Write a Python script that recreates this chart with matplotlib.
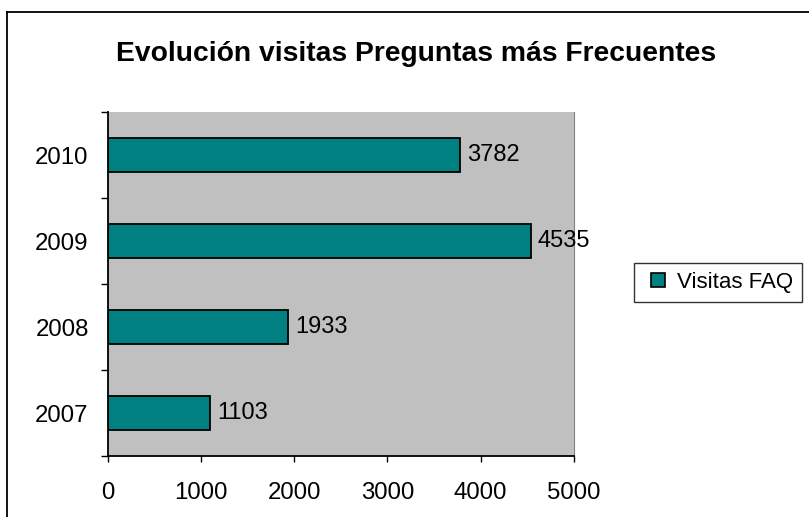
import matplotlib.pyplot as plt
from matplotlib.lines import Line2D
import numpy as np

years = ["2007", "2008", "2009", "2010"]
visits = [1103, 1933, 4535, 3782]
series_name = "Visitas FAQ"
title = "Evolución visitas Preguntas más Frecuentes"
x_ticks = [0, 1000, 2000, 3000, 4000, 5000]

plt.rcParams['font.family'] = ['Liberation Sans', 'DejaVu Sans']

teal = "#008080"
fig = plt.figure(figsize=(8.09, 5.17), dpi=100)
fig.patch.set_facecolor("white")

ax = fig.add_axes([107.5 / 809, 1 - 456 / 517, (574 - 107.5) / 809, (456 - 112) / 517])
ax.set_facecolor("#C0C0C0")

pos = np.arange(len(years))
bars = ax.barh(pos, visits, height=0.4, color=teal, edgecolor="black", linewidth=1.3)

for b, v in zip(bars, visits):
    ax.annotate(str(v), (b.get_width(), b.get_y() + b.get_height() / 2),
                xytext=(5, 0), textcoords="offset points",
                va="center", ha="left", fontsize=17)

ax.set_xlim(0, 5000)
ax.set_ylim(-0.5, len(years) - 0.5)
ax.set_xticks(x_ticks)
ax.set_xticklabels([str(t) for t in x_ticks])
ax.set_yticks(pos)
ax.set_yticklabels(years)
ax.set_yticks(np.arange(len(years) + 1) - 0.5, minor=True)

ax.tick_params(axis="x", direction="out", length=4.5, width=1, pad=14.5, labelsize=17.3)
ax.tick_params(axis="y", which="major", length=0, pad=13.5, labelsize=17.3)
ax.tick_params(axis="y", which="minor", direction="out", length=5, width=1)

ax.spines["top"].set_visible(False)
ax.spines["right"].set_color("#808080")
ax.spines["left"].set_linewidth(1.3)
ax.spines["bottom"].set_linewidth(1.3)

fig.text(416 / 809, 1 - 54 / 517, title, ha="center", va="center",
         fontsize=20.3, fontweight="bold")

handle = Line2D([], [], marker="s", linestyle="", markersize=9.4,
                markerfacecolor=teal, markeredgecolor="black", markeredgewidth=1.2)
leg = fig.legend([handle], [series_name], loc="center",
                 bbox_to_anchor=((632 + 804) / 2 / 809, 1 - 282.5 / 517),
                 fontsize=16, frameon=True, fancybox=False, shadow=False,
                 handlelength=1.35, handletextpad=0.2, borderpad=0.4)
leg.get_frame().set_edgecolor("black")
leg.get_frame().set_linewidth(1)

# outer chart border (cut off at right and bottom)
fig.add_artist(Line2D([7.5 / 809, 7.5 / 809], [0, 1 - 12 / 517], color="black", lw=1.3))
fig.add_artist(Line2D([7.5 / 809, 1], [1 - 12 / 517, 1 - 12 / 517], color="black", lw=1.3))

plt.savefig("out.png", dpi=100)
